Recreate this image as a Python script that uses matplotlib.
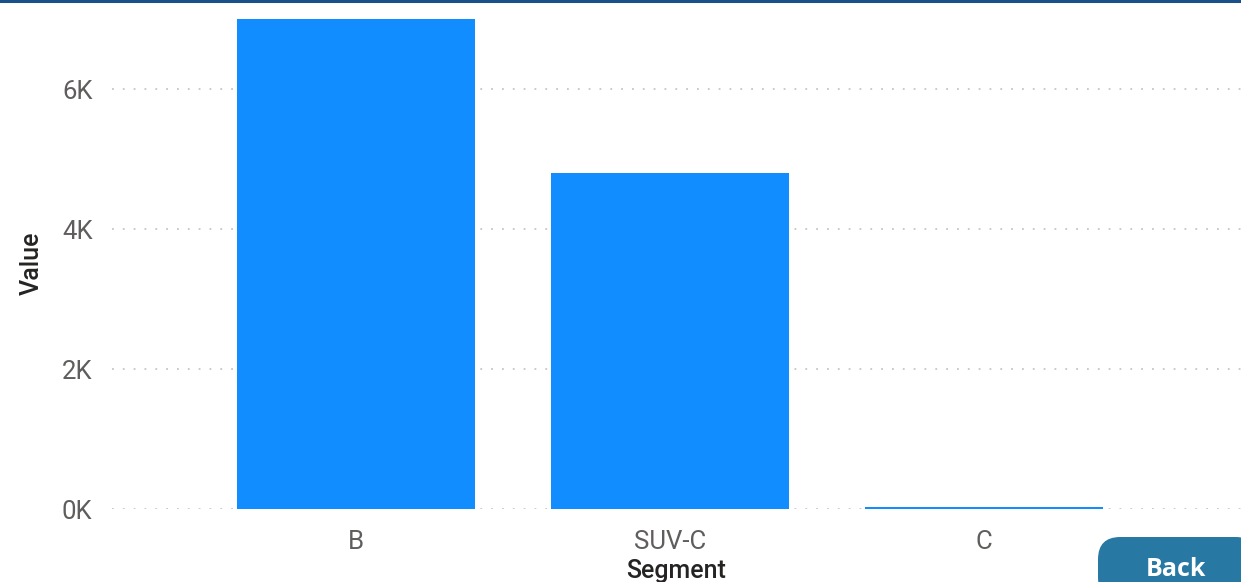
import matplotlib.pyplot as plt
from matplotlib.patches import FancyBboxPatch

# Segment totals
segments = ['B', 'SUV-C', 'C']
values = [7000, 4810, 30]
y_ticks = [0, 2000, 4000, 6000]
y_tick_labels = ['0K', '2K', '4K', '6K']

W, H = 1241, 582
fig = plt.figure(figsize=(W / 100, H / 100), dpi=100)

# plot area in pixel terms
left, right, top, bottom = 112, 1241, 3, 509.3
ax = fig.add_axes([left / W, 1 - bottom / H, (right - left) / W, (bottom - top) / H])

bar_color = '#118DFF'
ax.bar(range(len(segments)), values, width=0.758, color=bar_color, zorder=3)

px_per_cat = 314
ax.set_xlim((left - 356) / px_per_cat, (right - 356) / px_per_cat)
ax.set_ylim(0, (bottom - top) / 70 * 1000)

ax.set_yticks(y_ticks)
ax.set_yticklabels(y_tick_labels)
ax.set_xticks(range(len(segments)))
ax.set_xticklabels(segments)

for lbl in ax.get_yticklabels() + ax.get_xticklabels():
    lbl.set_fontfamily('Roboto')
    lbl.set_fontsize(18.5)
    lbl.set_color('#605E5C')

ax.tick_params(axis='both', length=0)
ax.tick_params(axis='y', pad=14)
ax.tick_params(axis='x', pad=15)

ax.grid(axis='y', linestyle=(0, (1, 5)), color='#C8C6C4', linewidth=1.3, zorder=0)
for s in ax.spines.values():
    s.set_visible(False)

# axis titles
fig.text(676 / W, 1 - 571 / H, 'Segment', family='Roboto', fontsize=18,
         color='#252423', fontweight='medium', ha='center', va='center')
fig.text(32 / W, 1 - 263 / H, 'Value', family='Roboto', fontsize=18,
         color='#252423', fontweight='medium', ha='center', va='center',
         rotation=90)

# dark top border line
fig.add_artist(plt.Line2D([0, 1], [1 - 1 / H, 1 - 1 / H], color='#1B4F8A',
                          linewidth=2.2, transform=fig.transFigure))

# Back button
btn = FancyBboxPatch((1098 / W, 1 - 600 / H), 160 / W, 63 / H,
                     boxstyle='round,pad=0,rounding_size=0.018',
                     transform=fig.transFigure, facecolor='#2878A4',
                     edgecolor='none', mutation_aspect=W / H)
fig.add_artist(btn)
fig.text(1176 / W, 1 - 570 / H, 'Back', family='Open Sans', fontweight='bold',
         fontsize=18, color='white', ha='center', va='center')

fig.savefig('out.png', dpi=100)
